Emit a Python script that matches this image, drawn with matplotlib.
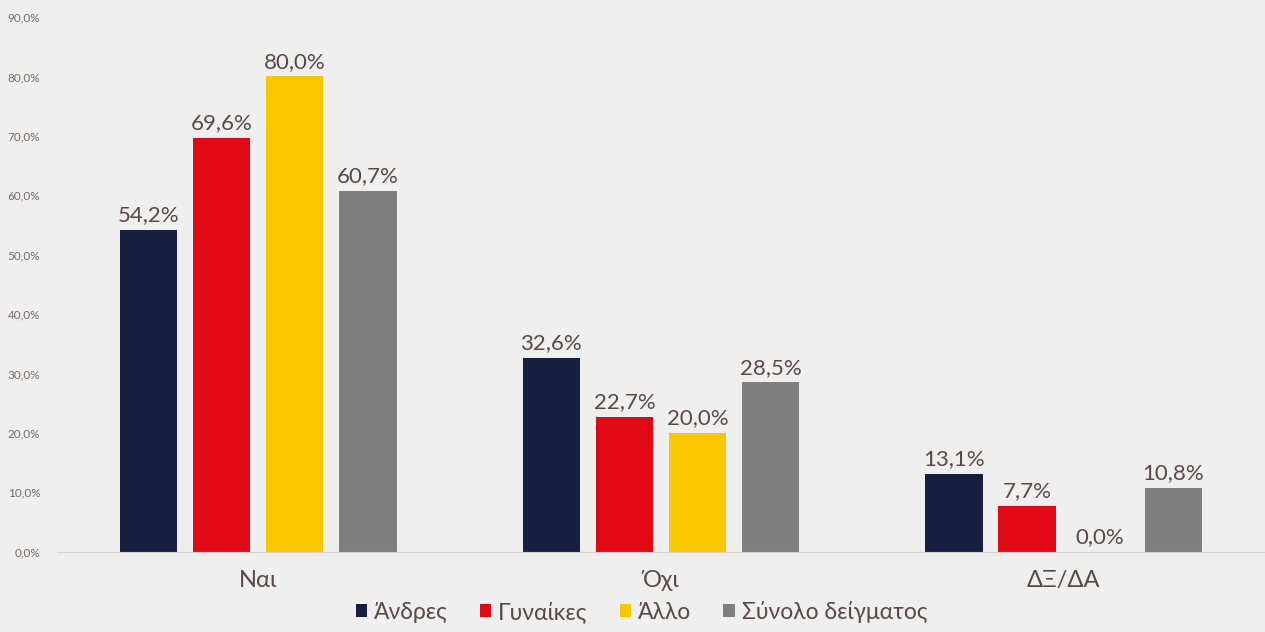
import matplotlib
matplotlib.use("Agg")
import matplotlib.pyplot as plt
import numpy as np

categories = ["Ναι", "Όχι", "ΔΞ/ΔΑ"]
series = ["Άνδρες", "Γυναίκες", "Άλλο", "Σύνολο δείγματος"]
values = {
    "Άνδρες": [54.2, 32.6, 13.1],
    "Γυναίκες": [69.6, 22.7, 7.7],
    "Άλλο": [80.0, 20.0, 0.0],
    "Σύνολο δείγματος": [60.7, 28.5, 10.8],
}
colors = ["#161f40", "#e10915", "#f9c600", "#7f7f7f"]
yticks = np.arange(0, 91, 10)

plt.rcParams["font.family"] = ["Lato", "DejaVu Sans"]
bg = "#efefef"
txt = "#5a4848"

fig = plt.figure(figsize=(12.65, 6.32), dpi=100, facecolor=bg)
ax = fig.add_axes([0.045, 0.127, 0.955, 0.846], facecolor=bg)

x = np.arange(len(categories))
step = 0.1816
width = 0.142
for i, (name, col) in enumerate(zip(series, colors)):
    pos = x + (i - 1.5) * step
    vals = values[name]
    ax.bar(pos, vals, width, color=col, label=name, zorder=2)
    for p, v in zip(pos, vals):
        ax.text(p, v + 0.8, f"{v:.1f}%".replace(".", ","), ha="center", va="bottom",
                fontsize=16, color=txt)

ax.set_xlim(-0.5, 2.5)
ax.set_ylim(0, 90)
ax.set_yticks(yticks)
ax.set_yticklabels([f"{t:.1f}%".replace(".", ",") for t in yticks], fontsize=8.5, color="#7a6868")
ax.set_xticks(x)
ax.set_xticklabels(categories, fontsize=17, color=txt)
ax.tick_params(length=0)
ax.tick_params(axis="x", pad=13)
ax.tick_params(axis="y", pad=12)
for s in ["top", "right", "left"]:
    ax.spines[s].set_visible(False)
ax.spines["bottom"].set_color("#d8cfcf")
ax.spines["bottom"].set_linewidth(0.8)

leg = fig.legend(loc="lower center", bbox_to_anchor=(0.507, -0.018), ncol=4, frameon=False,
                 fontsize=16.5, handlelength=0.5, handleheight=0.5, handletextpad=0.3,
                 columnspacing=1.4)
for t in leg.get_texts():
    t.set_color(txt)

fig.savefig("out.png", dpi=100, facecolor=bg)
